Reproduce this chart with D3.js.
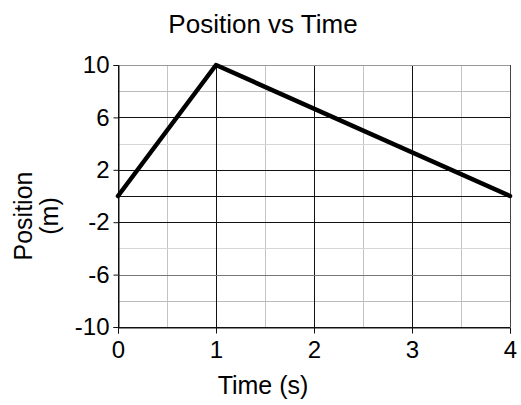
<!DOCTYPE html>
<html><head><meta charset="utf-8">
<script src="https://cdn.jsdelivr.net/npm/d3@7"></script>
<style>body{margin:0;background:#fff}text{font-family:"Liberation Sans",Arial,sans-serif;fill:#000}</style>
</head><body><svg id="c" width="521" height="405"></svg>
<script>
const times = [0, 1, 4];
const positions = [0, 10, 0];
const xTicks = [0, 1, 2, 3, 4];
const xMinor = [0.5, 1.5, 2.5, 3.5];
const yTicks = [10, 6, 2, -2, -6, -10];
const yMinor = [8, 4, 0, -4, -8];
const title = "Position vs Time";
const xTitle = "Time (s)";
const yTitle = ["Position", "(m)"];

const svg = d3.select("#c");
const L = 118, R = 510, T = 65, B = 327;
const x = d3.scaleLinear().domain([0, 4]).range([L, R]);
const y = d3.scaleLinear().domain([-10, 10]).range([B, T]);
const g = svg.append("g");

// minor grid
g.selectAll(".vm").data(xMinor).join("line")
  .attr("x1", d => Math.round(x(d)) + 0.5).attr("x2", d => Math.round(x(d)) + 0.5)
  .attr("y1", T).attr("y2", B).attr("stroke", "#c4c4c4").attr("stroke-width", 1);
g.selectAll(".hm").data(yMinor).join("line")
  .attr("y1", d => Math.round(y(d)) + 0.5).attr("y2", d => Math.round(y(d)) + 0.5)
  .attr("x1", L).attr("x2", R)
  .attr("stroke", d => d === 0 ? "#111" : (Math.abs(d) === 4 ? "#d6d6d6" : "#bcbcbc")).attr("stroke-width", 1);
// major grid
g.selectAll(".vM").data(xTicks).join("line")
  .attr("x1", d => Math.round(x(d)) + 0.5).attr("x2", d => Math.round(x(d)) + 0.5)
  .attr("y1", T).attr("y2", B).attr("stroke", d => d === 4 ? "#444" : "#111").attr("stroke-width", 1);
g.selectAll(".hM").data(yTicks).join("line")
  .attr("y1", d => Math.round(y(d)) + 0.5).attr("y2", d => Math.round(y(d)) + 0.5)
  .attr("x1", L).attr("x2", R)
  .attr("stroke", d => d === 10 ? "#999" : (d === -6 ? "#777" : "#111")).attr("stroke-width", 1);

// axes
const fmt = d => String(d);
const xAxis = d3.axisBottom(x).tickValues(xTicks).tickSize(6).tickPadding(3).tickFormat(fmt);
const yAxis = d3.axisLeft(y).tickValues(yTicks).tickSize(5).tickPadding(4).tickFormat(fmt);
const gx = svg.append("g").attr("transform", `translate(0,${B + 0.5})`).call(xAxis);
const gy = svg.append("g").attr("transform", `translate(${L + 0.5},0)`).call(yAxis);
[gx, gy].forEach(a => {
  a.select(".domain").attr("stroke", "#111");
  a.selectAll(".tick line").attr("stroke", "#111");
  a.selectAll("text").style("font-size", "24px").style("font-family", '"Liberation Sans",Arial,sans-serif').attr("fill", "#000");
});
gx.selectAll("text").attr("dy", "0.9em");

// line
const line = d3.line().x((d, i) => x(times[i])).y(d => y(d));
svg.append("path").datum(positions).attr("d", line)
  .attr("fill", "none").attr("stroke", "#000").attr("stroke-width", 4.5)
  .attr("stroke-linejoin", "round").attr("stroke-linecap", "round");

// titles
svg.append("text").attr("x", 263).attr("y", 33).attr("text-anchor", "middle")
  .style("font-size", "26px").text(title);
svg.append("text").attr("x", 263).attr("y", 394).attr("text-anchor", "middle")
  .style("font-size", "25px").text(xTitle);
const yt = svg.append("text").attr("transform", "translate(32,216) rotate(-90)")
  .attr("text-anchor", "middle").style("font-size", "25px");
yt.append("tspan").attr("x", 0).attr("y", 0).text(yTitle[0]);
yt.append("tspan").attr("x", 0).attr("y", 26).text(yTitle[1]);
</script></body></html>
